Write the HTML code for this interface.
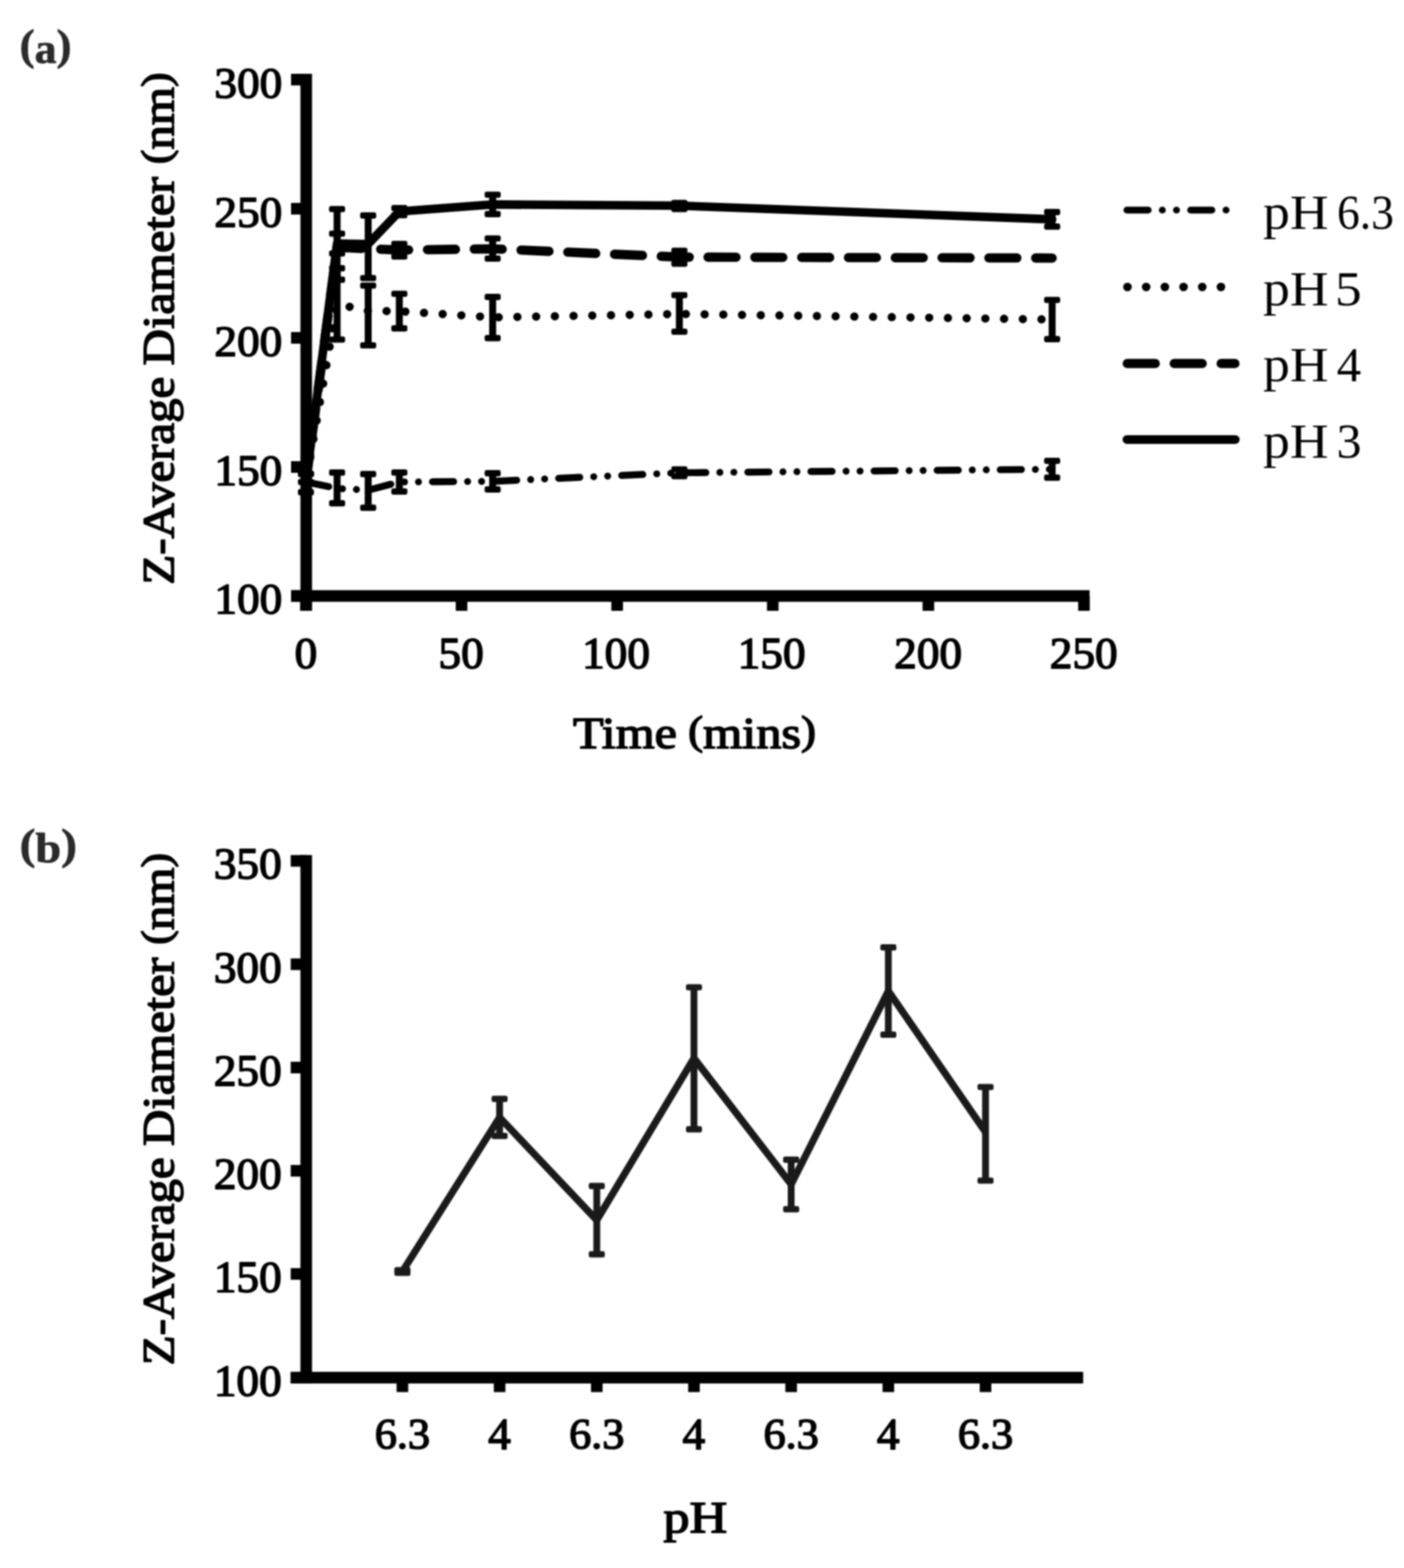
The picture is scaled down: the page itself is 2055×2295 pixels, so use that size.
<!DOCTYPE html>
<html lang="en"><head><meta charset="utf-8"><title>Figure</title>
<style>html,body{margin:0;padding:0;background:#fff}body{width:2055px;height:2295px;overflow:hidden}svg{display:block}</style>
</head><body>
<svg width="2055" height="2295" viewBox="0 0 2055 2295" font-family='"Liberation Serif", serif'>
<defs><filter id="soft" filterUnits="userSpaceOnUse" x="0" y="0" width="2055" height="2295" color-interpolation-filters="sRGB"><feGaussianBlur stdDeviation="1.0"/></filter></defs>
<g filter="url(#soft)">
<rect x="-10" y="-10" width="2075" height="2315" fill="#fff"/>
<rect x="439.70" y="108.00" width="17.00" height="786.00" fill="#000"/>
<rect x="426.00" y="108.00" width="22.20" height="17.00" fill="#000"/>
<rect x="426.00" y="297.00" width="22.20" height="17.00" fill="#000"/>
<rect x="426.00" y="486.00" width="22.20" height="17.00" fill="#000"/>
<rect x="426.00" y="675.00" width="22.20" height="17.00" fill="#000"/>
<rect x="426.00" y="863.80" width="22.20" height="17.00" fill="#000"/>
<rect x="426.00" y="863.80" width="1168.80" height="17.00" fill="#000"/>
<rect x="439.30" y="872.30" width="17.00" height="21.70" fill="#000"/>
<rect x="667.06" y="872.30" width="17.00" height="21.70" fill="#000"/>
<rect x="894.82" y="872.30" width="17.00" height="21.70" fill="#000"/>
<rect x="1122.58" y="872.30" width="17.00" height="21.70" fill="#000"/>
<rect x="1350.34" y="872.30" width="17.00" height="21.70" fill="#000"/>
<rect x="1578.10" y="872.30" width="17.00" height="21.70" fill="#000"/>
<path d="M447.80 705.50 L493.40 714.90 L538.90 717.40 L584.50 705.50 L721.10 704.50 L994.40 692.00 L1540.00 686.80" stroke="#000" stroke-width="10.2" fill="none" stroke-linecap="round" stroke-linejoin="round" stroke-dasharray="31 20.45 0.01 20.45 0.01 20.45" stroke-dashoffset="-3"/>
<path d="M447.80 705.00 L493.40 445.00 L538.90 455.00 L584.50 455.50 L721.10 464.50 L994.40 459.50 L1540.00 467.70" stroke="#000" stroke-width="12.2" fill="none" stroke-linecap="round" stroke-linejoin="round" stroke-dasharray="0.01 27.39" stroke-dashoffset="-8.7"/>
<path d="M447.80 705.00 L493.40 362.00 L538.90 364.00 L584.50 366.00 L721.10 364.20 L994.40 376.30 L1540.00 377.70" stroke="#000" stroke-width="13.6" fill="none" stroke-linecap="round" stroke-linejoin="round" stroke-dasharray="40.9 27.6" stroke-dashoffset="1.1"/>
<path d="M447.80 705.00 L493.40 356.50 L538.90 357.20 L584.50 309.50 L721.10 299.30 L994.40 301.00 L1540.00 321.00" stroke="#000" stroke-width="12.6" fill="none" stroke-linecap="round" stroke-linejoin="round"/>
<path d="M447.80 693.60V720.30" stroke="#000" stroke-width="10.2" fill="none"/>
<rect x="436.05" y="689.00" width="23.5" height="9.2" rx="3" fill="#000"/>
<rect x="436.05" y="715.70" width="23.5" height="9.2" rx="3" fill="#000"/>
<path d="M447.80 693.60V705.50" stroke="#000" stroke-width="10.2" fill="none"/>
<rect x="436.05" y="689.00" width="23.5" height="9.2" rx="3" fill="#000"/>
<rect x="436.05" y="700.90" width="23.5" height="9.2" rx="3" fill="#000"/>
<path d="M493.40 306.00V409.30" stroke="#000" stroke-width="10.2" fill="none"/>
<rect x="481.65" y="301.40" width="23.5" height="9.2" rx="3" fill="#000"/>
<rect x="481.65" y="404.70" width="23.5" height="9.2" rx="3" fill="#000"/>
<path d="M493.40 342.00V371.00" stroke="#000" stroke-width="10.2" fill="none"/>
<rect x="481.65" y="337.40" width="23.5" height="9.2" rx="3" fill="#000"/>
<rect x="481.65" y="366.40" width="23.5" height="9.2" rx="3" fill="#000"/>
<path d="M493.40 392.70V497.00" stroke="#000" stroke-width="10.2" fill="none"/>
<rect x="481.65" y="388.10" width="23.5" height="9.2" rx="3" fill="#000"/>
<rect x="481.65" y="492.40" width="23.5" height="9.2" rx="3" fill="#000"/>
<path d="M493.40 691.60V736.60" stroke="#000" stroke-width="10.2" fill="none"/>
<rect x="481.65" y="687.00" width="23.5" height="9.2" rx="3" fill="#000"/>
<rect x="481.65" y="732.00" width="23.5" height="9.2" rx="3" fill="#000"/>
<path d="M538.90 315.40V407.00" stroke="#000" stroke-width="10.2" fill="none"/>
<rect x="527.15" y="310.80" width="23.5" height="9.2" rx="3" fill="#000"/>
<rect x="527.15" y="402.40" width="23.5" height="9.2" rx="3" fill="#000"/>
<path d="M538.90 418.00V505.50" stroke="#000" stroke-width="10.2" fill="none"/>
<rect x="527.15" y="413.40" width="23.5" height="9.2" rx="3" fill="#000"/>
<rect x="527.15" y="500.90" width="23.5" height="9.2" rx="3" fill="#000"/>
<path d="M538.90 693.80V743.20" stroke="#000" stroke-width="10.2" fill="none"/>
<rect x="527.15" y="689.20" width="23.5" height="9.2" rx="3" fill="#000"/>
<rect x="527.15" y="738.60" width="23.5" height="9.2" rx="3" fill="#000"/>
<path d="M584.50 304.50V315.00" stroke="#000" stroke-width="10.2" fill="none"/>
<rect x="572.75" y="299.90" width="23.5" height="9.2" rx="3" fill="#000"/>
<rect x="572.75" y="310.40" width="23.5" height="9.2" rx="3" fill="#000"/>
<path d="M584.50 357.00V375.50" stroke="#000" stroke-width="10.2" fill="none"/>
<rect x="572.75" y="352.40" width="23.5" height="9.2" rx="3" fill="#000"/>
<rect x="572.75" y="370.90" width="23.5" height="9.2" rx="3" fill="#000"/>
<path d="M584.50 430.00V480.70" stroke="#000" stroke-width="10.2" fill="none"/>
<rect x="572.75" y="425.40" width="23.5" height="9.2" rx="3" fill="#000"/>
<rect x="572.75" y="476.10" width="23.5" height="9.2" rx="3" fill="#000"/>
<path d="M584.50 691.60V719.30" stroke="#000" stroke-width="10.2" fill="none"/>
<rect x="572.75" y="687.00" width="23.5" height="9.2" rx="3" fill="#000"/>
<rect x="572.75" y="714.70" width="23.5" height="9.2" rx="3" fill="#000"/>
<path d="M721.10 285.00V313.30" stroke="#000" stroke-width="10.2" fill="none"/>
<rect x="709.35" y="280.40" width="23.5" height="9.2" rx="3" fill="#000"/>
<rect x="709.35" y="308.70" width="23.5" height="9.2" rx="3" fill="#000"/>
<path d="M721.10 349.00V378.50" stroke="#000" stroke-width="10.2" fill="none"/>
<rect x="709.35" y="344.40" width="23.5" height="9.2" rx="3" fill="#000"/>
<rect x="709.35" y="373.90" width="23.5" height="9.2" rx="3" fill="#000"/>
<path d="M721.10 434.60V494.80" stroke="#000" stroke-width="10.2" fill="none"/>
<rect x="709.35" y="430.00" width="23.5" height="9.2" rx="3" fill="#000"/>
<rect x="709.35" y="490.20" width="23.5" height="9.2" rx="3" fill="#000"/>
<path d="M721.10 692.60V716.40" stroke="#000" stroke-width="10.2" fill="none"/>
<rect x="709.35" y="688.00" width="23.5" height="9.2" rx="3" fill="#000"/>
<rect x="709.35" y="711.80" width="23.5" height="9.2" rx="3" fill="#000"/>
<path d="M994.40 297.00V306.00" stroke="#000" stroke-width="10.2" fill="none"/>
<rect x="982.65" y="292.40" width="23.5" height="9.2" rx="3" fill="#000"/>
<rect x="982.65" y="301.40" width="23.5" height="9.2" rx="3" fill="#000"/>
<path d="M994.40 367.00V386.00" stroke="#000" stroke-width="10.2" fill="none"/>
<rect x="982.65" y="362.40" width="23.5" height="9.2" rx="3" fill="#000"/>
<rect x="982.65" y="381.40" width="23.5" height="9.2" rx="3" fill="#000"/>
<path d="M994.40 432.00V485.50" stroke="#000" stroke-width="10.2" fill="none"/>
<rect x="982.65" y="427.40" width="23.5" height="9.2" rx="3" fill="#000"/>
<rect x="982.65" y="480.90" width="23.5" height="9.2" rx="3" fill="#000"/>
<path d="M994.40 687.00V697.00" stroke="#000" stroke-width="10.2" fill="none"/>
<rect x="982.65" y="682.40" width="23.5" height="9.2" rx="3" fill="#000"/>
<rect x="982.65" y="692.40" width="23.5" height="9.2" rx="3" fill="#000"/>
<path d="M1540.00 310.40V331.60" stroke="#000" stroke-width="10.2" fill="none"/>
<rect x="1528.25" y="305.80" width="23.5" height="9.2" rx="3" fill="#000"/>
<rect x="1528.25" y="327.00" width="23.5" height="9.2" rx="3" fill="#000"/>
<path d="M1540.00 439.00V496.40" stroke="#000" stroke-width="10.2" fill="none"/>
<rect x="1528.25" y="434.40" width="23.5" height="9.2" rx="3" fill="#000"/>
<rect x="1528.25" y="491.80" width="23.5" height="9.2" rx="3" fill="#000"/>
<path d="M1540.00 674.50V699.20" stroke="#000" stroke-width="10.2" fill="none"/>
<rect x="1528.25" y="669.90" width="23.5" height="9.2" rx="3" fill="#000"/>
<rect x="1528.25" y="694.60" width="23.5" height="9.2" rx="3" fill="#000"/>
<path d="M1649.5 307.5H1797" stroke="#000" stroke-width="10.2" stroke-linecap="round" stroke-dasharray="31 20.75 0.01 20.75 0.01 20.75" fill="none"/>
<path d="M1650.25 420.0H1794.5" stroke="#000" stroke-width="12.6" stroke-linecap="round" stroke-dasharray="0.01 27.35" fill="none"/>
<path d="M1650.0 532.0H1807.5" stroke="#000" stroke-width="13.6" stroke-linecap="round" stroke-dasharray="40.9 27.8" fill="none"/>
<path d="M1649.5 643.3H1808.0" stroke="#000" stroke-width="12.8" stroke-linecap="round" fill="none"/>
<rect x="439.70" y="1251.50" width="17.00" height="773.40" fill="#000"/>
<rect x="425.50" y="1251.50" width="22.70" height="17.00" fill="#000"/>
<rect x="425.50" y="1402.80" width="22.70" height="17.00" fill="#000"/>
<rect x="425.50" y="1554.00" width="22.70" height="17.00" fill="#000"/>
<rect x="425.50" y="1705.10" width="22.70" height="17.00" fill="#000"/>
<rect x="425.50" y="1856.10" width="22.70" height="17.00" fill="#000"/>
<rect x="425.50" y="2007.90" width="22.70" height="17.00" fill="#000"/>
<rect x="425.50" y="2007.90" width="1159.90" height="17.00" fill="#000"/>
<rect x="580.50" y="2016.40" width="17.00" height="21.10" fill="#000"/>
<rect x="722.75" y="2016.40" width="17.00" height="21.10" fill="#000"/>
<rect x="865.00" y="2016.40" width="17.00" height="21.10" fill="#000"/>
<rect x="1007.25" y="2016.40" width="17.00" height="21.10" fill="#000"/>
<rect x="1149.50" y="2016.40" width="17.00" height="21.10" fill="#000"/>
<rect x="1291.75" y="2016.40" width="17.00" height="21.10" fill="#000"/>
<rect x="1434.00" y="2016.40" width="17.00" height="21.10" fill="#000"/>
<path d="M589.00 1861.00 L731.25 1635.50 L873.50 1785.90 L1015.75 1548.90 L1158.00 1733.50 L1300.25 1450.50 L1442.50 1657.00" stroke="#1a1a1a" stroke-width="10.5" fill="none" stroke-linecap="butt" stroke-linejoin="miter"/>
<path d="M589.00 1859.00V1863.00" stroke="#1a1a1a" stroke-width="10.0" fill="none"/>
<rect x="577.25" y="1854.40" width="23.5" height="9.2" rx="3" fill="#1a1a1a"/>
<rect x="577.25" y="1858.40" width="23.5" height="9.2" rx="3" fill="#1a1a1a"/>
<path d="M731.25 1608.30V1662.70" stroke="#1a1a1a" stroke-width="10.0" fill="none"/>
<rect x="719.50" y="1603.70" width="23.5" height="9.2" rx="3" fill="#1a1a1a"/>
<rect x="719.50" y="1658.10" width="23.5" height="9.2" rx="3" fill="#1a1a1a"/>
<path d="M873.50 1735.90V1835.80" stroke="#1a1a1a" stroke-width="10.0" fill="none"/>
<rect x="861.75" y="1731.30" width="23.5" height="9.2" rx="3" fill="#1a1a1a"/>
<rect x="861.75" y="1831.20" width="23.5" height="9.2" rx="3" fill="#1a1a1a"/>
<path d="M1015.75 1445.00V1652.80" stroke="#1a1a1a" stroke-width="10.0" fill="none"/>
<rect x="1004.00" y="1440.40" width="23.5" height="9.2" rx="3" fill="#1a1a1a"/>
<rect x="1004.00" y="1648.20" width="23.5" height="9.2" rx="3" fill="#1a1a1a"/>
<path d="M1158.00 1697.30V1769.80" stroke="#1a1a1a" stroke-width="10.0" fill="none"/>
<rect x="1146.25" y="1692.70" width="23.5" height="9.2" rx="3" fill="#1a1a1a"/>
<rect x="1146.25" y="1765.20" width="23.5" height="9.2" rx="3" fill="#1a1a1a"/>
<path d="M1300.25 1386.70V1514.30" stroke="#1a1a1a" stroke-width="10.0" fill="none"/>
<rect x="1288.50" y="1382.10" width="23.5" height="9.2" rx="3" fill="#1a1a1a"/>
<rect x="1288.50" y="1509.70" width="23.5" height="9.2" rx="3" fill="#1a1a1a"/>
<path d="M1442.50 1591.00V1728.00" stroke="#1a1a1a" stroke-width="10.0" fill="none"/>
<rect x="1430.75" y="1586.40" width="23.5" height="9.2" rx="3" fill="#1a1a1a"/>
<rect x="1430.75" y="1723.40" width="23.5" height="9.2" rx="3" fill="#1a1a1a"/>
<text transform="translate(1848.82 335.00) scale(1.0925 1)" font-size="71.76" fill="#000">pH</text>
<text transform="translate(1957.01 335.00) scale(0.9271 1)" font-size="71.76" fill="#000">6.3</text>
<text transform="translate(1848.82 446.60) scale(1.0925 1)" font-size="71.76" fill="#000">pH</text>
<text transform="translate(1954.12 446.60) scale(1.0870 1)" font-size="71.76" fill="#000">5</text>
<text transform="translate(1848.82 558.20) scale(1.0925 1)" font-size="71.76" fill="#000">pH</text>
<text transform="translate(1956.57 558.20) scale(0.9980 1)" font-size="71.76" fill="#000">4</text>
<text transform="translate(1848.82 669.60) scale(1.0925 1)" font-size="71.76" fill="#000">pH</text>
<text transform="translate(1956.34 669.60) scale(1.0197 1)" font-size="71.76" fill="#000">3</text>
<text transform="translate(313.81 142.60) scale(1.0372 1)" font-size="63.83" fill="#000" stroke="#000" stroke-width="2.04" stroke-linejoin="round">300</text>
<text transform="translate(313.81 331.60) scale(1.0372 1)" font-size="63.83" fill="#000" stroke="#000" stroke-width="2.04" stroke-linejoin="round">250</text>
<text transform="translate(313.81 520.60) scale(1.0372 1)" font-size="63.83" fill="#000" stroke="#000" stroke-width="2.04" stroke-linejoin="round">200</text>
<text transform="translate(313.81 709.60) scale(1.0372 1)" font-size="63.83" fill="#000" stroke="#000" stroke-width="2.04" stroke-linejoin="round">150</text>
<text transform="translate(313.81 898.40) scale(1.0372 1)" font-size="63.83" fill="#000" stroke="#000" stroke-width="2.04" stroke-linejoin="round">100</text>
<text transform="translate(431.25 977.85) scale(1.0038 1)" font-size="65.96" fill="#000" stroke="#000" stroke-width="2.11" stroke-linejoin="round">0</text>
<text transform="translate(641.79 977.85) scale(1.0038 1)" font-size="65.96" fill="#000" stroke="#000" stroke-width="2.11" stroke-linejoin="round">50</text>
<text transform="translate(852.01 977.85) scale(1.0038 1)" font-size="65.96" fill="#000" stroke="#000" stroke-width="2.11" stroke-linejoin="round">100</text>
<text transform="translate(1079.77 977.85) scale(1.0038 1)" font-size="65.96" fill="#000" stroke="#000" stroke-width="2.11" stroke-linejoin="round">150</text>
<text transform="translate(1308.85 977.85) scale(1.0038 1)" font-size="65.96" fill="#000" stroke="#000" stroke-width="2.11" stroke-linejoin="round">200</text>
<text transform="translate(1536.61 977.85) scale(1.0038 1)" font-size="65.96" fill="#000" stroke="#000" stroke-width="2.11" stroke-linejoin="round">250</text>
<text transform="translate(838.70 1095.21) scale(1.1067 1)" font-size="66.18" fill="#000" stroke="#000" stroke-width="2.12" stroke-linejoin="round">Time</text>
<text transform="translate(1007.15 1095.21) scale(1.1159 1)" font-size="66.18" fill="#000" stroke="#000" stroke-width="2.12" stroke-linejoin="round"><tspan font-size="58.62" dy="-5.88">(</tspan><tspan dy="5.88">mins</tspan><tspan font-size="58.62" dy="-5.88">)</tspan></text>
<text transform="translate(254.31 855.74) rotate(-90) scale(1.0804 1)" font-size="66.18" fill="#000" stroke="#000" stroke-width="2.12" stroke-linejoin="round">Z-Average</text>
<text transform="translate(254.31 535.01) rotate(-90) scale(1.1214 1)" font-size="66.18" fill="#000" stroke="#000" stroke-width="2.12" stroke-linejoin="round">Diameter</text>
<text transform="translate(254.31 240.30) rotate(-90) scale(1.0860 1)" font-size="66.18" fill="#000" stroke="#000" stroke-width="2.12" stroke-linejoin="round"><tspan font-size="58.62" dy="-5.88">(</tspan><tspan dy="5.88">nm</tspan><tspan font-size="58.62" dy="-5.88">)</tspan></text>
<text transform="translate(28.75 91.88) scale(1.0407 1)" font-size="61.63" fill="#2a2a2a" font-weight="bold" stroke="#2a2a2a" stroke-width="0.99" stroke-linejoin="round"><tspan font-size="63.26" dy="-5.32">(</tspan><tspan dy="5.32">a</tspan><tspan font-size="63.26" dy="-5.32">)</tspan></text>
<text transform="translate(313.01 1286.39) scale(1.0258 1)" font-size="64.54" fill="#000" stroke="#000" stroke-width="2.07" stroke-linejoin="round">350</text>
<text transform="translate(313.01 1437.69) scale(1.0258 1)" font-size="64.54" fill="#000" stroke="#000" stroke-width="2.07" stroke-linejoin="round">300</text>
<text transform="translate(313.01 1588.89) scale(1.0258 1)" font-size="64.54" fill="#000" stroke="#000" stroke-width="2.07" stroke-linejoin="round">250</text>
<text transform="translate(313.01 1739.99) scale(1.0258 1)" font-size="64.54" fill="#000" stroke="#000" stroke-width="2.07" stroke-linejoin="round">200</text>
<text transform="translate(313.01 1890.99) scale(1.0258 1)" font-size="64.54" fill="#000" stroke="#000" stroke-width="2.07" stroke-linejoin="round">150</text>
<text transform="translate(313.01 2042.79) scale(1.0258 1)" font-size="64.54" fill="#000" stroke="#000" stroke-width="2.07" stroke-linejoin="round">100</text>
<text transform="translate(548.38 2120.08) scale(1.0138 1)" font-size="64.11" fill="#000" stroke="#000" stroke-width="2.05" stroke-linejoin="round">6.3</text>
<text transform="translate(714.62 2121.02) scale(1.0115 1)" font-size="65.51" fill="#000" stroke="#000" stroke-width="2.10" stroke-linejoin="round">4</text>
<text transform="translate(832.88 2120.08) scale(1.0138 1)" font-size="64.11" fill="#000" stroke="#000" stroke-width="2.05" stroke-linejoin="round">6.3</text>
<text transform="translate(999.12 2121.02) scale(1.0115 1)" font-size="65.51" fill="#000" stroke="#000" stroke-width="2.10" stroke-linejoin="round">4</text>
<text transform="translate(1117.38 2120.08) scale(1.0138 1)" font-size="64.11" fill="#000" stroke="#000" stroke-width="2.05" stroke-linejoin="round">6.3</text>
<text transform="translate(1283.62 2121.02) scale(1.0115 1)" font-size="65.51" fill="#000" stroke="#000" stroke-width="2.10" stroke-linejoin="round">4</text>
<text transform="translate(1401.88 2120.08) scale(1.0138 1)" font-size="64.11" fill="#000" stroke="#000" stroke-width="2.05" stroke-linejoin="round">6.3</text>
<text transform="translate(971.00 2243.21) scale(1.1585 1)" font-size="65.99" fill="#000" stroke="#000" stroke-width="2.11" stroke-linejoin="round">pH</text>
<text transform="translate(254.31 1998.24) rotate(-90) scale(1.0804 1)" font-size="66.18" fill="#000" stroke="#000" stroke-width="2.12" stroke-linejoin="round">Z-Average</text>
<text transform="translate(254.31 1677.51) rotate(-90) scale(1.1214 1)" font-size="66.18" fill="#000" stroke="#000" stroke-width="2.12" stroke-linejoin="round">Diameter</text>
<text transform="translate(254.31 1382.80) rotate(-90) scale(1.0860 1)" font-size="66.18" fill="#000" stroke="#000" stroke-width="2.12" stroke-linejoin="round"><tspan font-size="58.62" dy="-5.88">(</tspan><tspan dy="5.88">nm</tspan><tspan font-size="58.62" dy="-5.88">)</tspan></text>
<text transform="translate(28.63 1261.88) scale(1.0989 1)" font-size="61.63" fill="#2a2a2a" font-weight="bold" stroke="#2a2a2a" stroke-width="0.99" stroke-linejoin="round"><tspan font-size="63.26" dy="-5.32">(</tspan><tspan dy="5.32">b</tspan><tspan font-size="63.26" dy="-5.32">)</tspan></text>
</g>
</svg>
</body></html>
